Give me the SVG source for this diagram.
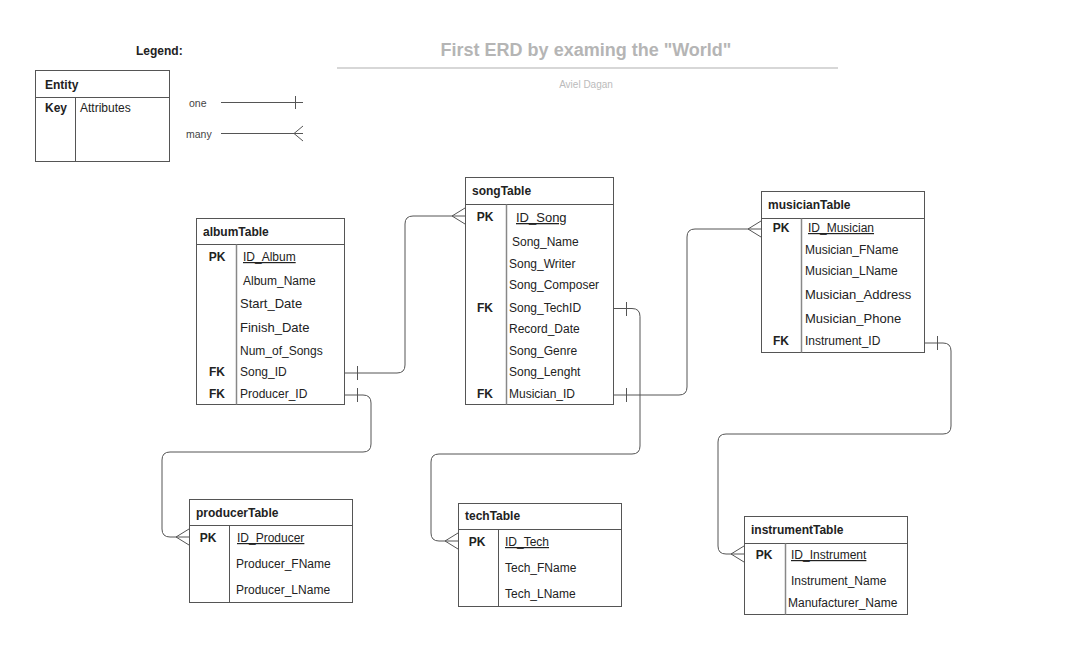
<svg xmlns="http://www.w3.org/2000/svg" width="1077" height="667" viewBox="0 0 1077 667">
<style>
text{font-family:"Liberation Sans",Arial,sans-serif;fill:#222;font-size:12px;transform:translateY(1px)}
.b{font-weight:bold}
.k{font-weight:bold;text-anchor:middle}
.u{text-decoration:underline}
.m{font-size:13px}
.box{fill:#fff;stroke:#555;stroke-width:1}
.div{stroke:#555;stroke-width:1}
.col{stroke:#888;stroke-width:1.5}
.c{fill:none;stroke:#555;stroke-width:1}
</style>
<rect width="1077" height="667" fill="#fff"/>
<g id="legend">
<text x="136" y="54" class="b">Legend:</text>
<rect x="35.5" y="70.5" width="134" height="91" class="box"/>
<line x1="35.5" y1="97.5" x2="169.5" y2="97.5" class="div"/>
<line x1="75.5" y1="97.5" x2="75.5" y2="161.5" class="div"/>
<text x="45" y="88" class="b">Entity</text>
<text x="45" y="111" class="b">Key</text>
<text x="80" y="111">Attributes</text>
<text x="189" y="106" style="font-size:10.5px;fill:#444">one</text>
<text x="186" y="137" style="font-size:10.5px;fill:#444">many</text>
<path d="M221,102.5 H303 M295.5,96 V109" class="c"/>
<path d="M221,133.5 H303 M303,126 L294,133.5 L303,141" class="c"/>
</g>
<g id="title">
<text x="586" y="55" style="font-size:18px;font-weight:bold;fill:#b5b5b5;text-anchor:middle">First ERD by examing the "World"</text>
<line x1="337" y1="68" x2="838" y2="68" stroke="#b0b0b0" stroke-width="1.2"/>
<text x="586" y="87" style="font-size:10px;fill:#bbb;text-anchor:middle">Aviel Dagan</text>
</g>
<g id="connectors">
<path d="M344,373 H397 Q405,373 405,365 V224 Q405,216 413,216 H465 M357.5,366 V380 M465,208 L452,216 L465,224" class="c"/>
<path d="M344,395 H363 Q371,395 371,403 V444 Q371,452 363,452 H170 Q162,452 162,460 V529 Q162,537 170,537 H189 M357.5,388 V402 M189,529 L176,537 L189,545" class="c"/>
<path d="M613,308.5 H632 Q640,308.5 640,316.5 V446 Q640,454 632,454 H439 Q431,454 431,462 V533 Q431,541 439,541 H458 M626.5,302 V316 M458,533 L445,541 L458,549" class="c"/>
<path d="M613,395 H679 Q687,395 687,387 V237 Q687,229 695,229 H761 M626.5,388 V402 M761,221 L748,229 L761,237" class="c"/>
<path d="M924,343 H943 Q951,343 951,351 V426 Q951,434 943,434 H726 Q718,434 718,442 V546 Q718,554 726,554 H744 M937.5,336 V350 M744,546 L731,554 L744,562" class="c"/>
</g>
<g id="albumTable">
<rect x="196.5" y="218.5" width="148" height="186" class="box"/>
<line x1="196.5" y1="244.5" x2="344.5" y2="244.5" class="div"/>
<line x1="236.5" y1="244.5" x2="236.5" y2="404.5" class="col"/>
<text x="203" y="235" class="b">albumTable</text>
<text x="217" y="260" class="k">PK</text>
<text x="243" y="260" class="u">ID_Album</text>
<text x="243" y="284">Album_Name</text>
<text x="240" y="307" class="m">Start_Date</text>
<text x="240" y="331" class="m">Finish_Date</text>
<text x="240" y="354">Num_of_Songs</text>
<text x="217" y="375" class="k">FK</text>
<text x="240" y="375">Song_ID</text>
<text x="217" y="397" class="k">FK</text>
<text x="240" y="397">Producer_ID</text>
</g>
<g id="songTable">
<rect x="465.5" y="177.5" width="148" height="227" class="box"/>
<line x1="465.5" y1="204.5" x2="613.5" y2="204.5" class="div"/>
<line x1="506.5" y1="204.5" x2="506.5" y2="404.5" class="col"/>
<text x="472" y="194" class="b">songTable</text>
<text x="485" y="220" class="k">PK</text>
<text x="516" y="221" class="u m">ID_Song</text>
<text x="512" y="245">Song_Name</text>
<text x="509" y="267">Song_Writer</text>
<text x="509" y="288">Song_Composer</text>
<text x="485" y="311" class="k">FK</text>
<text x="509" y="311">Song_TechID</text>
<text x="509" y="332">Record_Date</text>
<text x="509" y="354">Song_Genre</text>
<text x="509" y="375">Song_Lenght</text>
<text x="485" y="397" class="k">FK</text>
<text x="509" y="397">Musician_ID</text>
</g>
<g id="musicianTable">
<rect x="761.5" y="191.5" width="163" height="161" class="box"/>
<line x1="761.5" y1="218.5" x2="924.5" y2="218.5" class="div"/>
<line x1="801.5" y1="218.5" x2="801.5" y2="352.5" class="col"/>
<text x="768" y="208" class="b">musicianTable</text>
<text x="781" y="231" class="k">PK</text>
<text x="808" y="231" class="u">ID_Musician</text>
<text x="805" y="253">Musician_FName</text>
<text x="805" y="274">Musician_LName</text>
<text x="805" y="298" class="m">Musician_Address</text>
<text x="805" y="322" class="m">Musician_Phone</text>
<text x="781" y="344" class="k">FK</text>
<text x="805" y="344">Instrument_ID</text>
</g>
<g id="producerTable">
<rect x="189.5" y="499.5" width="163" height="103" class="box"/>
<line x1="189.5" y1="525.5" x2="352.5" y2="525.5" class="div"/>
<line x1="229.5" y1="525.5" x2="229.5" y2="602.5" class="div"/>
<text x="196" y="516" class="b">producerTable</text>
<text x="208" y="541" class="k">PK</text>
<text x="237" y="541" class="u">ID_Producer</text>
<text x="236" y="567">Producer_FName</text>
<text x="236" y="593">Producer_LName</text>
</g>
<g id="techTable">
<rect x="458.5" y="503.5" width="163" height="103" class="box"/>
<line x1="458.5" y1="529.5" x2="621.5" y2="529.5" class="div"/>
<line x1="498.5" y1="529.5" x2="498.5" y2="606.5" class="div"/>
<text x="465" y="519" class="b">techTable</text>
<text x="477" y="545" class="k">PK</text>
<text x="505" y="545" class="u">ID_Tech</text>
<text x="505" y="571">Tech_FName</text>
<text x="505" y="597">Tech_LName</text>
</g>
<g id="instrumentTable">
<rect x="744.5" y="516.5" width="163" height="98" class="box"/>
<line x1="744.5" y1="543.5" x2="907.5" y2="543.5" class="div"/>
<line x1="785.5" y1="543.5" x2="785.5" y2="614.5" class="col"/>
<text x="751" y="533" class="b">instrumentTable</text>
<text x="764" y="558" class="k">PK</text>
<text x="791" y="558" class="u">ID_Instrument</text>
<text x="791" y="584">Instrument_Name</text>
<text x="788" y="606">Manufacturer_Name</text>
</g>
</svg>
